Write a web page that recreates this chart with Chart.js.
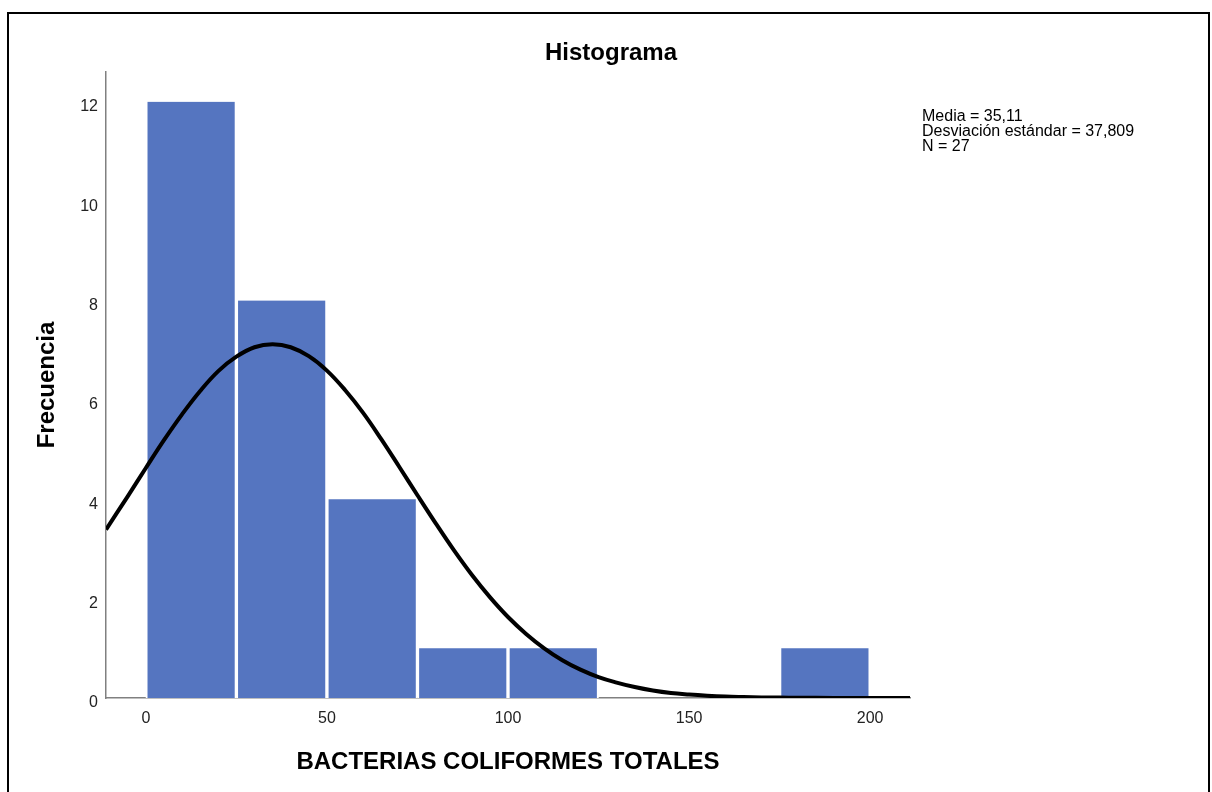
<!DOCTYPE html>
<html>
<head>
<meta charset="utf-8">
<script src="https://cdn.jsdelivr.net/npm/chart.js@4.4.1/dist/chart.umd.min.js"></script>
<style>
  html, body { margin: 0; padding: 0; background: #fff; }
  #wrap { position: relative; width: 1212px; height: 792px; overflow: hidden; }
  #frame { position: absolute; left: 7px; top: 12px; width: 1199px; height: 800px;
           border: 2px solid #000; border-bottom: none; pointer-events: none; }
  canvas { position: absolute; left: 0; top: 0; }
</style>
</head>
<body>
<div id="wrap">
  <canvas id="histChart" width="1212" height="792"></canvas>
  <div id="frame"></div>
</div>
<script>
// histogram bins (lower edge, width 25)
const binStarts = [0, 25, 50, 75, 100, 175];
const binWidth = 25;
const frequencies = [12, 8, 4, 1, 1, 1];

// normal curve
const curveX = [-11, -5, 0, 5, 10, 15, 20, 25, 30, 35, 40, 45, 50, 55, 60, 65, 70, 75, 80, 85, 90, 95, 100,
                105, 110, 115, 120, 125, 130, 135, 140, 145, 150, 155, 160, 165, 170, 175, 180, 190, 200, 211];
const curveY = [3.39, 4.06, 4.63, 5.19, 5.71, 6.18, 6.58, 6.87, 7.06, 7.12, 7.06, 6.88, 6.59, 6.20, 5.74, 5.21, 4.65, 4.08, 3.52, 2.98, 2.48, 2.03, 1.63,
                1.29, 1.00, 0.76, 0.57, 0.42, 0.31, 0.22, 0.15, 0.10, 0.07, 0.047, 0.030, 0.020, 0.012, 0.008, 0.005, 0.002, 0.0005, 0.0001];

const xTicks = [0, 50, 100, 150, 200];
const yTicks = [0, 2, 4, 6, 8, 10, 12];

const chartTitle = 'Histograma';
const statLines = ['Media = 35,11', 'Desviación estándar = 37,809', 'N = 27'];

const FONT = '"Liberation Sans", Arial, Helvetica, sans-serif';

const textPlugin = {
    id: 'spssText',
    afterDraw(chart) {
        const ctx = chart.ctx;
        ctx.save();
        ctx.fillStyle = '#000';
        ctx.font = 'bold 24px ' + FONT;
        ctx.textAlign = 'center';
        ctx.textBaseline = 'middle';
        ctx.fillText(chartTitle, 611, 53);
        ctx.font = '16px ' + FONT;
        ctx.textAlign = 'left';
        ctx.textBaseline = 'alphabetic';
        statLines.forEach((t, i) => ctx.fillText(t, 922, 121 + i * 15));
        ctx.restore();
    }
};

const barData = binStarts.map((s, i) => ({ x: s + binWidth / 2, y: frequencies[i] }));
const curveData = curveX.map((x, i) => ({ x: x, y: curveY[i] }));

const ctx = document.getElementById('histChart').getContext('2d');
new Chart(ctx, {
    type: 'bar',
    data: {
        datasets: [
            {
                type: 'line',
                data: curveData,
                borderColor: '#000',
                borderWidth: 4,
                pointRadius: 0,
                fill: false,
                tension: 0.4,
                order: 0
            },
            {
                data: barData,
                backgroundColor: '#5575c0',
                borderColor: '#ffffff',
                borderWidth: { left: 2, right: 2, top: 0, bottom: 0 },
                borderSkipped: false,
                barPercentage: 1,
                categoryPercentage: 1,
                order: 1
            }
        ]
    },
    options: {
        responsive: false,
        animation: false,
        layout: { padding: { top: 72, right: 302, bottom: 0, left: 0 } },
        plugins: {
            legend: { display: false },
            tooltip: { enabled: false },
            title: { display: false }
        },
        scales: {
            x: {
                type: 'linear',
                min: -11,
                max: 211,
                offset: false,
                grid: { display: false, offset: false, drawTicks: false },
                border: { display: true, color: '#808080', width: 1.5 },
                afterBuildTicks: s => { s.ticks = xTicks.map(v => ({ value: v })); },
                afterFit: s => { s.height = 94; },
                ticks: {
                    color: '#222',
                    font: { family: FONT, size: 16 },
                    padding: 11,
                    maxRotation: 0
                },
                title: {
                    display: true,
                    text: 'BACTERIAS COLIFORMES TOTALES',
                    color: '#000',
                    font: { family: FONT, size: 24, weight: 'bold', lineHeight: 1.2 },
                    padding: { top: 0, bottom: 15 }
                }
            },
            y: {
                min: 0,
                max: 12.6,
                grid: { display: false, drawTicks: false },
                border: { display: true, color: '#808080', width: 1.5 },
                afterBuildTicks: s => { s.ticks = yTicks.map(v => ({ value: v })); },
                afterFit: s => { s.width = 106; },
                ticks: {
                    color: '#222',
                    font: { family: FONT, size: 16 },
                    padding: 8,
                    labelOffset: 5
                },
                title: {
                    display: true,
                    text: 'Frecuencia',
                    color: '#000',
                    font: { family: FONT, size: 24, weight: 'bold', lineHeight: 1.2 },
                    padding: { top: 33, bottom: 0 }
                }
            }
        }
    },
    plugins: [textPlugin]
});
</script>
</body>
</html>
